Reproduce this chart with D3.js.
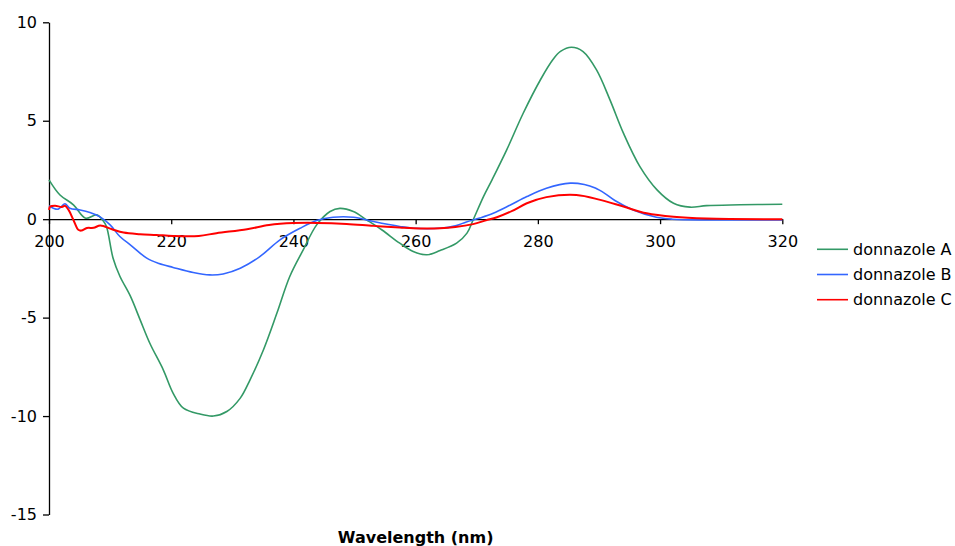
<!DOCTYPE html>
<html><head><meta charset="utf-8">
<script src="https://cdn.jsdelivr.net/npm/d3@7"></script>
<style>
body{margin:0;background:#fff;}
svg{display:block;font-family:"DejaVu Sans",Verdana,sans-serif;}
</style></head>
<body><svg id="chart" width="955" height="546"></svg>
<script>
const seriesNames = ["donnazole A","donnazole B","donnazole C"];
const seriesColors = ["#339966","#3366FF","#FF0000"];
const xTicks = [200,220,240,260,280,300,320];
const yTicks = [-15,-10,-5,0,5,10];

const wlA = [200,201.8,204,206,207.8,208.8,209.4,210.5,211.6,213.3,214.9,216.5,218.7,220.3,222,224.7,226.9,229.1,231.3,232.9,235.1,237.3,239.4,241.6,243.8,246,247.6,249.8,252,254.5,257.4,259.6,261.8,264,266.7,268.4,269.4,271.1,272.5,274.9,277.6,280.4,282.5,283.7,285.5,287.4,289.6,291.8,294,296.7,299.5,302.2,304.9,307.6,313.1,320];
const cdA = [2.0,1.23,0.73,0.05,0.22,-0.05,-0.37,-2.0,-2.9,-3.9,-5.1,-6.3,-7.65,-8.83,-9.6,-9.9,-10.0,-9.77,-9.09,-8.16,-6.63,-4.77,-2.91,-1.56,-0.29,0.39,0.55,0.39,-0.04,-0.55,-1.22,-1.64,-1.81,-1.59,-1.22,-0.71,-0.04,1.15,2.0,3.52,5.38,7.07,8.12,8.52,8.73,8.51,7.58,6.06,4.37,2.67,1.49,0.81,0.61,0.69,0.73,0.76];

const wlB = [200,200.7,201.5,202.6,203.4,205.1,206.7,208.3,210,211.6,213.5,216,218,220.3,223.6,226.3,228.5,231.3,234.5,237.8,241.1,243.8,246.5,249.8,253.1,257.4,259.6,264,266.5,268.3,270.5,272.7,275.5,278.2,281.4,285.3,287.6,289.4,291,292.6,295.6,299.4,302,307.6,320];
const cdB = [0.68,0.56,0.51,0.78,0.56,0.47,0.34,0.13,-0.29,-0.88,-1.35,-1.98,-2.25,-2.45,-2.71,-2.83,-2.78,-2.49,-1.9,-1.05,-0.46,-0.07,0.1,0.1,-0.12,-0.37,-0.46,-0.46,-0.34,-0.14,0.06,0.3,0.72,1.15,1.57,1.83,1.76,1.58,1.3,0.95,0.47,0.1,0.0,-0.04,-0.04];

const wlC = [200,200.2,201,202.1,202.6,203.2,204,204.8,205.3,206.2,207.3,208.4,210.3,212.2,214.9,217.6,220.3,224.5,227.4,232.4,236,240,243.8,248.7,253.1,257.4,259.6,264,266.5,269.4,271.5,273.3,275.8,278.2,281.4,286.3,290.2,294,297.8,302.2,307.6,320];
const cdC = [0.47,0.64,0.68,0.62,0.68,0.47,-0.04,-0.54,-0.58,-0.45,-0.44,-0.32,-0.51,-0.68,-0.76,-0.8,-0.85,-0.85,-0.71,-0.51,-0.3,-0.2,-0.19,-0.24,-0.34,-0.42,-0.46,-0.46,-0.4,-0.25,-0.06,0.1,0.42,0.81,1.12,1.23,0.98,0.64,0.3,0.12,0.03,0.0];

const series = [
  {name:seriesNames[0], color:seriesColors[0], pts:wlA.map((w,i)=>[w,cdA[i]]), width:1.6},
  {name:seriesNames[1], color:seriesColors[1], pts:wlB.map((w,i)=>[w,cdB[i]]), width:1.6},
  {name:seriesNames[2], color:seriesColors[2], pts:wlC.map((w,i)=>[w,cdC[i]]), width:2}
];

const svg = d3.select("#chart");
const x = d3.scaleLinear().domain([200,320]).range([49,782.3]);
const y = d3.scaleLinear().domain([-15,10]).range([514.5,22.3]);
const fmt = d => String(d);

// y axis
const yAxis = d3.axisLeft(y).tickValues(yTicks).tickFormat(fmt).tickSize(6).tickSizeOuter(0).tickPadding(6);
const gy = svg.append("g").attr("transform","translate(49,0)").call(yAxis);
gy.selectAll("text").attr("font-size",16).attr("font-family","DejaVu Sans, Verdana, sans-serif").attr("fill","#000");
gy.selectAll("line,path").attr("stroke","#000").attr("stroke-width",1.3);

// x axis at y=0
const xAxis = d3.axisBottom(x).tickValues(xTicks).tickFormat(fmt).tickSize(5).tickSizeOuter(0).tickPadding(11);
const gx = svg.append("g").attr("transform",`translate(0,${y(0)})`).call(xAxis);
gx.selectAll("text").attr("font-size",16).attr("font-family","DejaVu Sans, Verdana, sans-serif").attr("fill","#000");
gx.selectAll("line,path").attr("stroke","#000").attr("stroke-width",1.3);

const line = d3.line().x(d=>x(d[0])).y(d=>y(d[1])).curve(d3.curveCatmullRom.alpha(0.5));
svg.append("g").selectAll("path").data(series).join("path")
  .attr("d",d=>line(d.pts)).attr("fill","none")
  .attr("stroke",d=>d.color).attr("stroke-width",d=>d.width).attr("stroke-linejoin","round");

// axis title
svg.append("text").attr("x",(x(200)+x(320))/2).attr("y",543).attr("text-anchor","middle")
  .attr("font-size",16).attr("font-weight","bold").text("Wavelength (nm)");

// legend
const lg = svg.append("g").selectAll("g").data(series).join("g")
  .attr("transform",(d,i)=>`translate(817,${249.3+i*25.2})`);
lg.append("line").attr("x1",0).attr("x2",31).attr("stroke",d=>d.color).attr("stroke-width",1.6);
lg.append("text").attr("x",36).attr("dy","0.35em").attr("font-size",16).text(d=>d.name);
</script></body></html>
